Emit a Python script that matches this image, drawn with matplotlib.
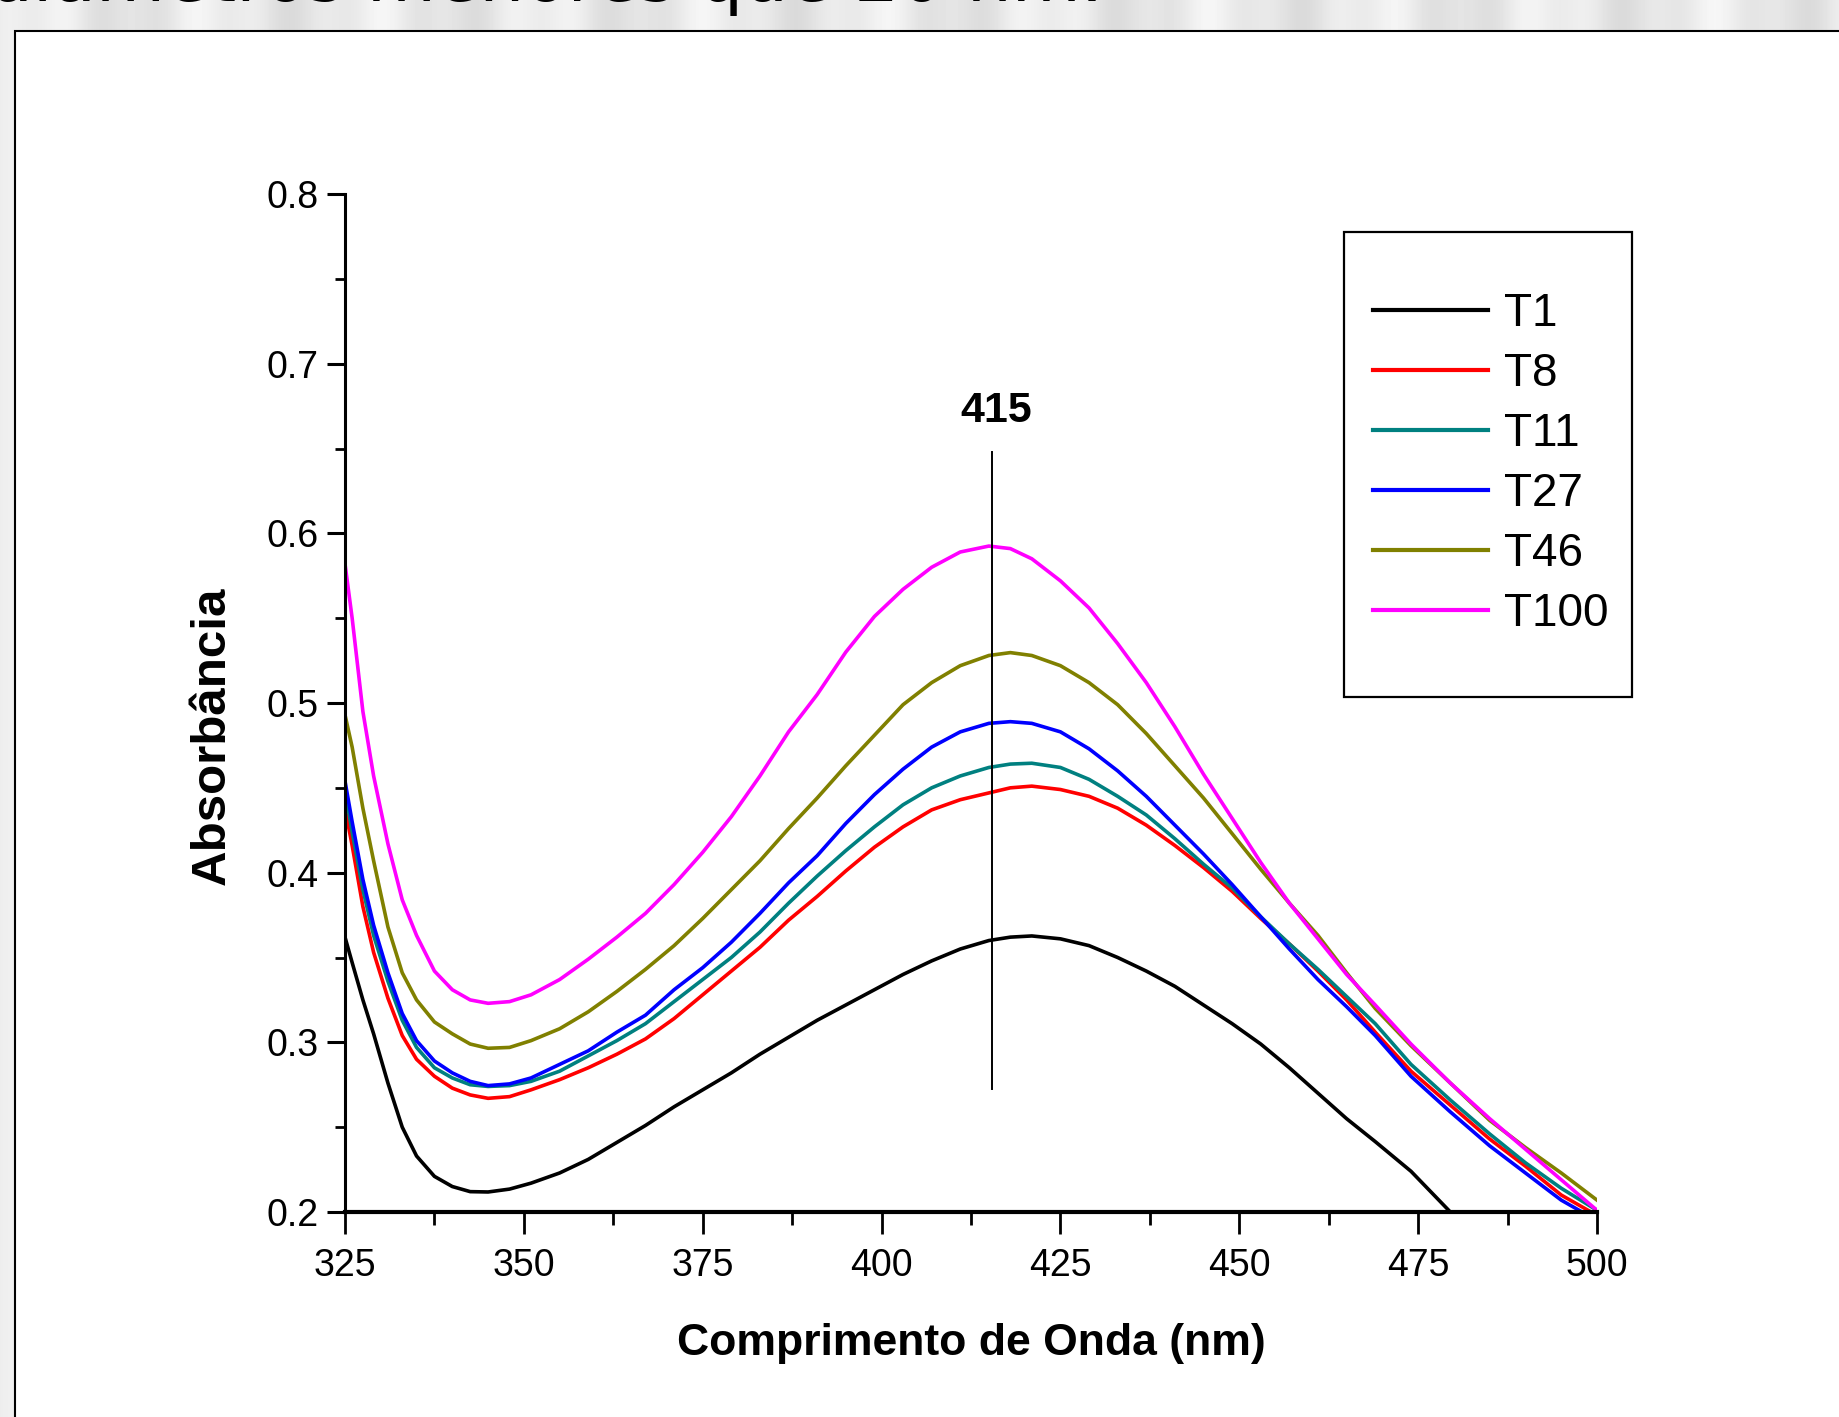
import numpy as np
import matplotlib
matplotlib.use("Agg")
import matplotlib.pyplot as plt
from matplotlib.patches import Rectangle

plt.rcParams['font.family'] = ['Liberation Sans', 'DejaVu Sans']

# wavelength grid (nm) and absorbance of each sample
wavelength = [325, 326, 327.5, 329, 331, 333, 335, 337.5, 340, 342.5, 345, 348, 351, 355, 359,
              363, 367, 371, 375, 379, 383, 387, 391, 395, 399, 403, 407, 411, 415, 418,
              421, 425, 429, 433, 437, 441, 445, 449, 453, 457, 461, 465, 469, 474, 479.5,
              485, 490, 495, 500]

t1 = [0.362, 0.347, 0.325, 0.305, 0.276, 0.250, 0.233, 0.221, 0.215, 0.212, 0.2118, 0.2135, 0.217, 0.223, 0.231,
      0.241, 0.251, 0.262, 0.272, 0.282, 0.293, 0.303, 0.313, 0.322, 0.331, 0.340, 0.348, 0.355, 0.360, 0.362,
      0.3627, 0.361, 0.357, 0.350, 0.342, 0.333, 0.322, 0.311, 0.299, 0.285, 0.270, 0.255, 0.2415, 0.224, 0.200,
      np.nan, np.nan, np.nan, np.nan]
t8 = [0.438, 0.416, 0.380, 0.353, 0.326, 0.304, 0.290, 0.280, 0.273, 0.269, 0.267, 0.268, 0.272, 0.278, 0.285,
      0.293, 0.302, 0.314, 0.328, 0.342, 0.356, 0.372, 0.386, 0.401, 0.415, 0.427, 0.437, 0.443, 0.447, 0.450,
      0.451, 0.449, 0.445, 0.438, 0.428, 0.416, 0.403, 0.389, 0.373, 0.358, 0.342, 0.325, 0.306, 0.283, 0.263,
      0.243, 0.227, 0.210, 0.198]
t11 = [0.449, 0.424, 0.390, 0.363, 0.336, 0.313, 0.297, 0.285, 0.279, 0.275, 0.274, 0.2745, 0.277, 0.283, 0.292,
       0.301, 0.311, 0.324, 0.337, 0.350, 0.365, 0.382, 0.398, 0.413, 0.427, 0.440, 0.450, 0.457, 0.462, 0.464,
       0.4645, 0.462, 0.455, 0.445, 0.434, 0.420, 0.405, 0.391, 0.374, 0.358, 0.343, 0.327, 0.311, 0.287, 0.266,
       0.246, 0.229, 0.214, 0.201]
t27 = [0.454, 0.430, 0.396, 0.369, 0.341, 0.317, 0.301, 0.289, 0.282, 0.277, 0.2745, 0.2755, 0.279, 0.287, 0.295,
       0.306, 0.316, 0.331, 0.344, 0.359, 0.376, 0.394, 0.410, 0.429, 0.446, 0.461, 0.474, 0.483, 0.488, 0.489,
       0.488, 0.483, 0.473, 0.460, 0.445, 0.428, 0.411, 0.393, 0.374, 0.355, 0.337, 0.321, 0.304, 0.280, 0.259,
       0.239, 0.223, 0.207, 0.195]
t46 = [0.493, 0.474, 0.438, 0.407, 0.368, 0.341, 0.325, 0.312, 0.305, 0.299, 0.2965, 0.297, 0.301, 0.308, 0.318,
       0.330, 0.343, 0.357, 0.373, 0.390, 0.407, 0.426, 0.444, 0.463, 0.481, 0.499, 0.512, 0.522, 0.528, 0.5297,
       0.528, 0.522, 0.512, 0.499, 0.482, 0.463, 0.444, 0.423, 0.402, 0.382, 0.363, 0.341, 0.320, 0.298, 0.276,
       0.254, 0.238, 0.223, 0.207]
t100 = [0.582, 0.550, 0.495, 0.457, 0.417, 0.384, 0.363, 0.342, 0.331, 0.325, 0.323, 0.324, 0.328, 0.337, 0.349,
        0.362, 0.376, 0.393, 0.412, 0.433, 0.457, 0.483, 0.505, 0.530, 0.551, 0.567, 0.580, 0.589, 0.5925, 0.591,
        0.585, 0.572, 0.556, 0.535, 0.512, 0.486, 0.458, 0.432, 0.406, 0.382, 0.361, 0.340, 0.322, 0.299, 0.276,
        0.255, 0.237, 0.219, 0.201]

labels = ['T1', 'T8', 'T11', 'T27', 'T46', 'T100']
colors = ['#000000', '#ff0000', '#008080', '#0000ff', '#808000', '#ff00ff']

peak_nm = 415.5
peak_label = '415'
peak_line_y = [0.2725, 0.648]

W, H = 1840, 1417
fig = plt.figure(figsize=(W / 100, H / 100), dpi=100)

# slide background: light metallic stripes behind a white panel
bg = fig.add_axes([0, 0, 1, 1], zorder=-5)
cols = np.linspace(0, 1, W)
stripe = 0.91 + 0.035 * np.sin(cols * 2 * np.pi * 11) + 0.02 * np.sin(cols * 2 * np.pi * 29 + 1.3)
img = np.tile(stripe, (60, 1))
bg.imshow(img, cmap='gray', vmin=0, vmax=1, aspect='auto', extent=[0, 1, 0, 1])
bg.set_axis_off()
bg.text(-12 / W, 1 - 0.5 / H, 'diâmetros menores que 20 nm.', family='DejaVu Sans',
        fontsize=51, ha='left', va='baseline', color='black', transform=fig.transFigure)
bg.add_patch(Rectangle((15 / W, -0.05), 1.1, 1 - 31 / H + 0.05, transform=fig.transFigure,
                       facecolor='white', edgecolor='black', lw=1.5, clip_on=False))

ax = fig.add_axes([345 / W, 1 - 1212 / H, (1597 - 345) / W, (1212 - 194) / H])
ax.patch.set_alpha(0)
for vals, lab, c in zip([t1, t8, t11, t27, t46, t100], labels, colors):
    ax.plot(wavelength, vals, color=c, lw=2.6, label=lab)

ax.plot([peak_nm, peak_nm], peak_line_y, color='black', lw=1.4)
ax.text(416, 0.672, peak_label, fontsize=31, fontweight='bold', ha='center', va='center')

ax.set_xlim(325, 500)
ax.set_ylim(0.2, 0.8)
ax.set_xticks(np.arange(325, 501, 25))
ax.set_xticks(np.arange(337.5, 500, 25), minor=True)
ax.set_yticks(np.arange(0.2, 0.81, 0.1))
ax.set_yticks(np.arange(0.25, 0.8, 0.1), minor=True)
ax.set_yticklabels(['0.2', '0.3', '0.4', '0.5', '0.6', '0.7', '0.8'])
ax.spines['top'].set_visible(False)
ax.spines['right'].set_visible(False)
ax.spines['left'].set_linewidth(2.2)
ax.spines['bottom'].set_linewidth(3.0)
ax.tick_params(axis='y', which='major', length=13, width=2.2, labelsize=27, pad=6)
ax.tick_params(axis='y', which='minor', length=7, width=2.0)
ax.tick_params(axis='x', which='major', length=16, width=2.0, labelsize=27, pad=10)
ax.tick_params(axis='x', which='minor', length=9.5, width=2.0)

ax.set_xlabel('Comprimento de Onda (nm)', fontsize=32, fontweight='bold', va='center')
ax.xaxis.set_label_coords(0.5, (1212 - 1344) / 1018)
ax.set_ylabel('Absorbância', fontsize=35.5, fontweight='bold', va='center')
ax.yaxis.set_label_coords((212 - 345) / 1252, (1212 - 736) / 1018)

# legend: frameless entries plus a drawn box
leg = fig.legend(loc='upper left', bbox_to_anchor=(1373 / W, 1 - 292 / H), frameon=False,
                 fontsize=33, handlelength=2.5, handletextpad=0.35, labelspacing=0.35,
                 borderpad=0, borderaxespad=0)
for h in leg.get_lines():
    h.set_linewidth(3.0)
fig.add_artist(Rectangle((1344 / W, 1 - 697 / H), (1632 - 1344) / W, (697 - 232) / H,
                         transform=fig.transFigure, facecolor='none', edgecolor='black', lw=1.6))

fig.savefig('out.png', dpi=100)
